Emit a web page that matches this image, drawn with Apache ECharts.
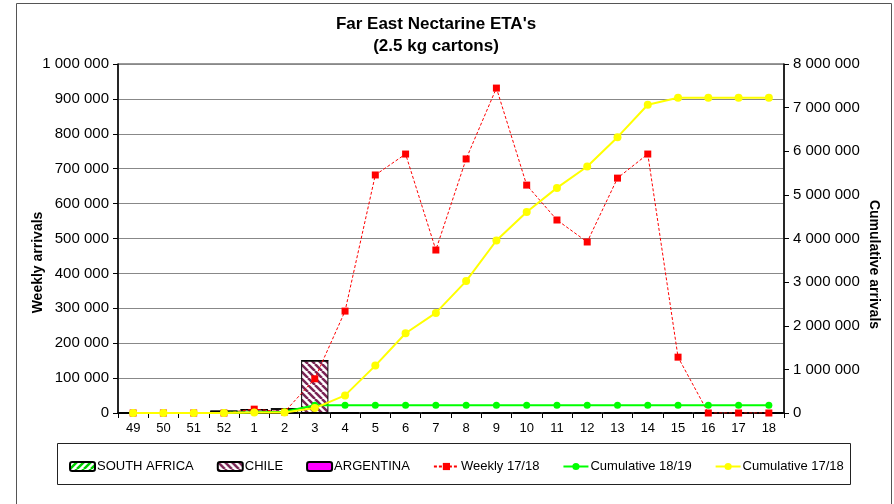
<!DOCTYPE html>
<html><head><meta charset="utf-8">
<script src="https://cdn.jsdelivr.net/npm/echarts@6/dist/echarts.min.js"></script>
<style>html,body{margin:0;padding:0;background:#fff}#c{width:894px;height:504px}</style>
</head><body><div id="c"></div>
<script>
const weeks = ['49','50','51','52','1','2','3','4','5','6','7','8','9','10','11','12','13','14','15','16','17','18'];
const southAfrica = [0,0,0,5000,0,0,0,0,0,0,0,0,0,0,0,0,0,0,0,0,0,0];
const chile = [0,0,0,0,10000,12000,150000,0,0,0,0,0,0,0,0,0,0,0,0,0,0,0];
const argentina = [0,0,0,0,0,0,0,0,0,0,0,0,0,0,0,0,0,0,0,0,0,0];
const weekly1718 = [0,0,0,0,11000,3000,98000,292000,682000,742000,467000,728000,931000,653000,553000,490000,673000,742000,160000,0,0,0];
const cum1819 = [0,0,0,5000,15000,27000,177000,177000,177000,177000,177000,177000,177000,177000,177000,177000,177000,177000,177000,177000,177000,177000];
const cum1718 = [0,0,0,0,11000,14000,112000,404000,1086000,1828000,2295000,3023000,3954000,4607000,5160000,5650000,6323000,7065000,7225000,7225000,7225000,7225000];

function stripes(color, dir, size, lw) {
  const c = document.createElement('canvas');
  c.width = c.height = size;
  const g = c.getContext('2d');
  g.fillStyle = '#fff'; g.fillRect(0,0,size,size);
  g.strokeStyle = color; g.lineWidth = lw;
  g.beginPath();
  for (const off of [-size, 0, size]) {
    if (dir === '\\') { g.moveTo(off, 0); g.lineTo(off + size, size); }
    else { g.moveTo(off, size); g.lineTo(off + size, 0); }
  }
  g.stroke();
  return { image: c, repeat: 'repeat' };
}
const fmt = v => String(v).replace(/\B(?=(\d{3})+(?!\d))/g, ' ');
const FONT = 'Liberation Sans, Arial, sans-serif';

const chart = echarts.init(document.getElementById('c'), null, {renderer: 'canvas'});
chart.setOption({
  animation: false,
  backgroundColor: '#fff',
  textStyle: { fontFamily: FONT },
  title: {
    text: "Far East Nectarine ETA's\n(2.5 kg cartons)",
    left: 431, top: 8, textAlign: 'center',
    textStyle: { fontSize: 17, fontWeight: 'bold', color: '#000', lineHeight: 22, fontFamily: FONT }
  },
  graphic: [
    { type: 'rect', shape: { x: 16.5, y: 3.5, width: 875, height: 520 }, style: { fill: 'none', stroke: '#555', lineWidth: 1 }, z: -1 },
    { type: 'rect', shape: { x: 57.5, y: 443.5, width: 793, height: 41 }, style: { fill: '#fff', stroke: '#222', lineWidth: 1 }, z: -1 }
  ],
  legend: {
    left: 64, top: 455,
    itemGap: 23, itemWidth: 25, itemHeight: 9,
    textStyle: { fontSize: 13, color: '#000', fontFamily: FONT, padding: [0,0,0,-3] },
    data: ['SOUTH AFRICA','CHILE','ARGENTINA','Weekly 17/18','Cumulative 18/19','Cumulative 17/18']
  },
  grid: { left: 118, right: 110, top: 64, bottom: 91, show: true, borderColor: '#333', borderWidth: 1, backgroundColor: 'transparent' },
  xAxis: {
    type: 'category', data: weeks,
    axisLine: { lineStyle: { color: '#000', width: 1.5 } },
    axisTick: { show: true, length: 5, lineStyle: { color: '#000' } },
    axisLabel: { color: '#000', fontSize: 13, margin: 9, fontFamily: FONT }
  },
  yAxis: [
    {
      type: 'value', min: 0, max: 1000000, interval: 100000, position: 'left',
      name: 'Weekly arrivals', nameLocation: 'middle', nameGap: 73, nameRotate: 90, nameMoveOverlap: false,
      nameTextStyle: { fontSize: 14, fontWeight: 'bold', color: '#000', fontFamily: FONT, padding: [0, 48, 0, 0] },
      axisLine: { show: true, lineStyle: { color: '#000', width: 1.5 } },
      axisTick: { show: true, length: 5, lineStyle: { color: '#000' } },
      axisLabel: { color: '#000', fontSize: 15, margin: 9, formatter: fmt, fontFamily: FONT },
      splitLine: { show: true, lineStyle: { color: '#888', width: 1 } }
    },
    {
      type: 'value', min: 0, max: 8000000, interval: 1000000, position: 'right',
      name: 'Cumulative arrivals', nameLocation: 'middle', nameGap: 83, nameRotate: -90, nameMoveOverlap: false,
      nameTextStyle: { fontSize: 14, fontWeight: 'bold', color: '#000', fontFamily: FONT, padding: [0, 0, 0, 52] },
      axisLine: { show: true, lineStyle: { color: '#000', width: 1.5 } },
      axisTick: { show: true, length: 5, lineStyle: { color: '#000' } },
      axisLabel: { color: '#000', fontSize: 15, margin: 9, formatter: fmt, fontFamily: FONT },
      splitLine: { show: false }
    }
  ],
  series: [
    { name: 'SOUTH AFRICA', type: 'bar', stack: 'b', data: southAfrica, barCategoryGap: '10%',
      itemStyle: { color: stripes('#00cc00', '/', 7, 2.5), borderColor: '#000', borderWidth: 1 } },
    { name: 'CHILE', type: 'bar', stack: 'b', data: chile, barCategoryGap: '10%',
      itemStyle: { color: stripes('#7a2555', '\\', 7, 2.5), borderColor: '#000', borderWidth: 1 } },
    { name: 'ARGENTINA', type: 'bar', stack: 'b', data: argentina, barCategoryGap: '10%',
      itemStyle: { color: '#ff00ff', borderColor: '#000', borderWidth: 1 } },
    { name: 'Weekly 17/18', type: 'line', yAxisIndex: 0, data: weekly1718,
      symbol: 'rect', symbolSize: 7, z: 3,
      lineStyle: { color: '#ff0000', width: 1, type: [3, 2] },
      itemStyle: { color: '#ff0000', borderWidth: 0 } },
    { name: 'Cumulative 18/19', type: 'line', yAxisIndex: 1, data: cum1819,
      symbol: 'circle', symbolSize: 7, z: 4,
      lineStyle: { color: '#00ff00', width: 2 },
      itemStyle: { color: '#00ff00', borderWidth: 0 } },
    { name: 'Cumulative 17/18', type: 'line', yAxisIndex: 1, data: cum1718,
      symbol: 'circle', symbolSize: 8, z: 5,
      lineStyle: { color: '#ffff00', width: 2 },
      itemStyle: { color: '#ffff00', borderWidth: 0 } }
  ]
});
</script></body></html>
